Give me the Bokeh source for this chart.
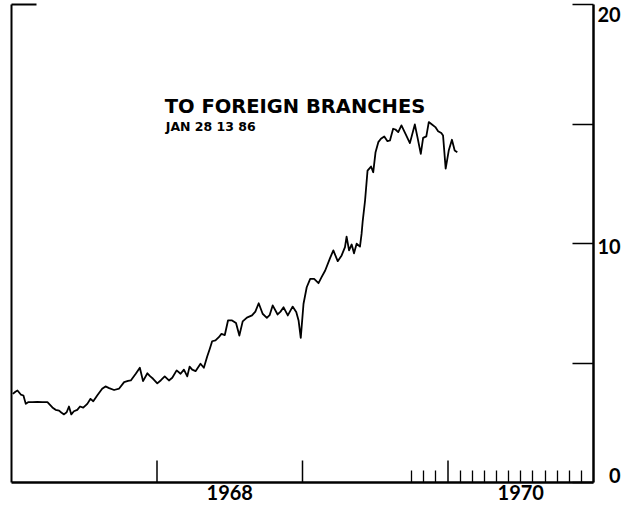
from bokeh.plotting import figure
from bokeh.models import LinearAxis, FixedTicker, Label, Range1d, ColumnDataSource
from bokeh.embed import file_html
from bokeh.resources import INLINE

# ---- data (decimal years) ----
dates = [
    1967.009, 1967.027, 1967.041, 1967.064, 1967.082, 1967.098, 1967.114, 1967.144,
    1967.178, 1967.212, 1967.247, 1967.281, 1967.303, 1967.327, 1967.342, 1967.361,
    1967.379, 1967.395, 1967.411, 1967.429, 1967.452, 1967.471, 1967.493, 1967.521,
    1967.543, 1967.562, 1967.589, 1967.623, 1967.646, 1967.671, 1967.705, 1967.740,
    1967.774, 1967.801, 1967.820, 1967.854, 1967.882, 1967.904, 1967.934, 1967.952,
    1967.973, 1968.002, 1968.027, 1968.053, 1968.082, 1968.105, 1968.135, 1968.162,
    1968.185, 1968.208, 1968.224, 1968.242, 1968.265, 1968.299, 1968.322, 1968.345,
    1968.363, 1968.379, 1968.402, 1968.425, 1968.443, 1968.466, 1968.488, 1968.516,
    1968.543, 1968.566, 1968.589, 1968.618, 1968.653, 1968.676, 1968.699, 1968.726,
    1968.755, 1968.774, 1968.795, 1968.829, 1968.849, 1968.870, 1968.899, 1968.932,
    1968.957, 1968.973, 1968.988, 1969.007, 1969.029, 1969.053, 1969.080, 1969.110,
    1969.132, 1969.156, 1969.190, 1969.212, 1969.242, 1969.269, 1969.292, 1969.303,
    1969.320, 1969.338, 1969.354, 1969.372, 1969.395, 1969.406, 1969.414, 1969.430,
    1969.447, 1969.471, 1969.486, 1969.502, 1969.521, 1969.539, 1969.562, 1969.584,
    1969.601, 1969.623, 1969.639, 1969.658, 1969.680, 1969.708, 1969.738, 1969.772,
    1969.790, 1969.813, 1969.829, 1969.851, 1969.868, 1969.890, 1969.913, 1969.932,
    1969.954, 1969.966, 1969.984, 1970.005, 1970.027, 1970.046, 1970.064,
]
values = [
    3.71, 3.80, 3.85, 3.68, 3.64, 3.29, 3.36, 3.36,
    3.37, 3.36, 3.36, 3.14, 3.04, 3.01, 2.93, 2.85,
    2.94, 3.18, 2.85, 2.98, 3.04, 3.18, 3.13, 3.29,
    3.50, 3.40, 3.64, 3.92, 4.02, 3.95, 3.87, 3.93,
    4.20, 4.25, 4.27, 4.55, 4.80, 4.24, 4.57, 4.45,
    4.34, 4.15, 4.28, 4.44, 4.27, 4.38, 4.69, 4.55,
    4.72, 4.44, 4.85, 4.72, 4.66, 4.97, 4.80, 5.27,
    5.60, 5.91, 5.95, 6.08, 6.22, 6.17, 6.78, 6.78,
    6.67, 6.15, 6.74, 6.90, 6.99, 7.15, 7.50, 7.06,
    6.89, 7.00, 7.41, 7.03, 7.15, 7.33, 6.99, 7.36,
    7.13, 6.78, 6.05, 7.48, 8.17, 8.52, 8.52, 8.34,
    8.60, 8.87, 9.40, 9.71, 9.26, 9.50, 9.85, 10.29,
    9.71, 9.96, 9.59, 9.99, 9.87, 10.40, 10.95, 11.80,
    13.05, 13.22, 12.98, 13.82, 14.24, 14.38, 14.48, 14.28,
    14.31, 14.80, 14.77, 14.66, 14.94, 14.59, 14.20, 14.98,
    14.45, 13.75, 14.42, 14.48, 15.08, 14.98, 14.87, 14.70,
    14.62, 14.52, 13.13, 13.89, 14.34, 13.89, 13.82,
]

year_ticks = [1968.0, 1969.0, 1970.0]
month_ticks = [1969.75, 1969.833, 1969.917,
               1970.083, 1970.167, 1970.25, 1970.333, 1970.417, 1970.5,
               1970.583, 1970.667, 1970.75, 1970.833, 1970.917]
x_label_pos = [1968.5, 1970.5]
x_label_text = ["1968", "1970"]
y_ticks = [0, 5, 10, 15, 20]
y_label_pos = [0.3, 9.9, 19.6]
y_label_text = ["\u20070", "10", "20"]
title_text = "TO FOREIGN BRANCHES"
subtitle_text = "JAN  28  13 86"

NUM_FONT = "Lato"
TITLE_FONT = "DejaVu Sans"

p = figure(width=624, height=502, output_backend="svg", toolbar_location=None,
           x_range=Range1d(1967, 1971), y_range=Range1d(0, 20),
           x_axis_location=None, y_axis_location=None,
           min_border_left=11, min_border_right=31, min_border_top=4, min_border_bottom=0)
p.outline_line_color = None
p.background_fill_color = "white"
p.border_fill_color = "white"
for g in p.grid:
    g.visible = False

# bottom axis: labels mid-year, monthly ticks as minor ticks
xa = LinearAxis(ticker=FixedTicker(ticks=x_label_pos, minor_ticks=month_ticks),
                major_label_overrides={v: t for v, t in zip(x_label_pos, x_label_text)},
                major_tick_in=0, major_tick_out=0,
                minor_tick_in=12, minor_tick_out=0,
                minor_tick_line_width=1.3, minor_tick_line_color="black",
                axis_line_width=2.5, axis_line_color="black",
                major_label_standoff=2,
                major_label_text_font=NUM_FONT, major_label_text_font_style="bold",
                major_label_text_font_size="20px", major_label_text_color="black")
p.add_layout(xa, "below")

# left axis (line plus short top piece), no labels
la = LinearAxis(ticker=FixedTicker(ticks=[], minor_ticks=[20]),
                major_tick_in=0, major_tick_out=0,
                minor_tick_in=25, minor_tick_out=0, minor_tick_line_width=2,
                minor_tick_line_color="black",
                axis_line_width=2, axis_line_color="black",
                major_label_standoff=0)
p.add_layout(la, "left")

# right axis: tick marks as minor ticks, labels at their printed spots
ra = LinearAxis(ticker=FixedTicker(ticks=y_label_pos, minor_ticks=y_ticks),
                major_label_overrides={v: t for v, t in zip(y_label_pos, y_label_text)},
                major_tick_in=0, major_tick_out=0,
                minor_tick_in=21, minor_tick_out=0, minor_tick_line_width=1.6,
                minor_tick_line_color="black",
                axis_line_width=2.5, axis_line_color="black",
                major_label_standoff=4,
                major_label_text_font=NUM_FONT, major_label_text_font_style="bold",
                major_label_text_font_size="20px", major_label_text_color="black")
p.add_layout(ra, "right")

# tall year ticks on the bottom axis
p.segment(x0=year_ticks, y0=[0] * len(year_ticks), x1=year_ticks, y1=[0.92] * len(year_ticks),
          line_color="black", line_width=1.5)

# series
src = ColumnDataSource(dict(x=dates, y=values))
p.line("x", "y", source=src, line_color="black", line_width=1.8, line_join="round")

# title
p.add_layout(Label(x=1968.053, y=15.75, text=title_text, text_font=TITLE_FONT,
                   text_font_style="bold", text_font_size="19.5px", text_color="black",
                   text_baseline="alphabetic"))
p.add_layout(Label(x=1968.06, y=14.88, text=subtitle_text, text_font=TITLE_FONT,
                   text_font_style="bold", text_font_size="12.5px", text_color="black",
                   text_baseline="alphabetic"))

open("out.html", "w").write(file_html(p, INLINE))
